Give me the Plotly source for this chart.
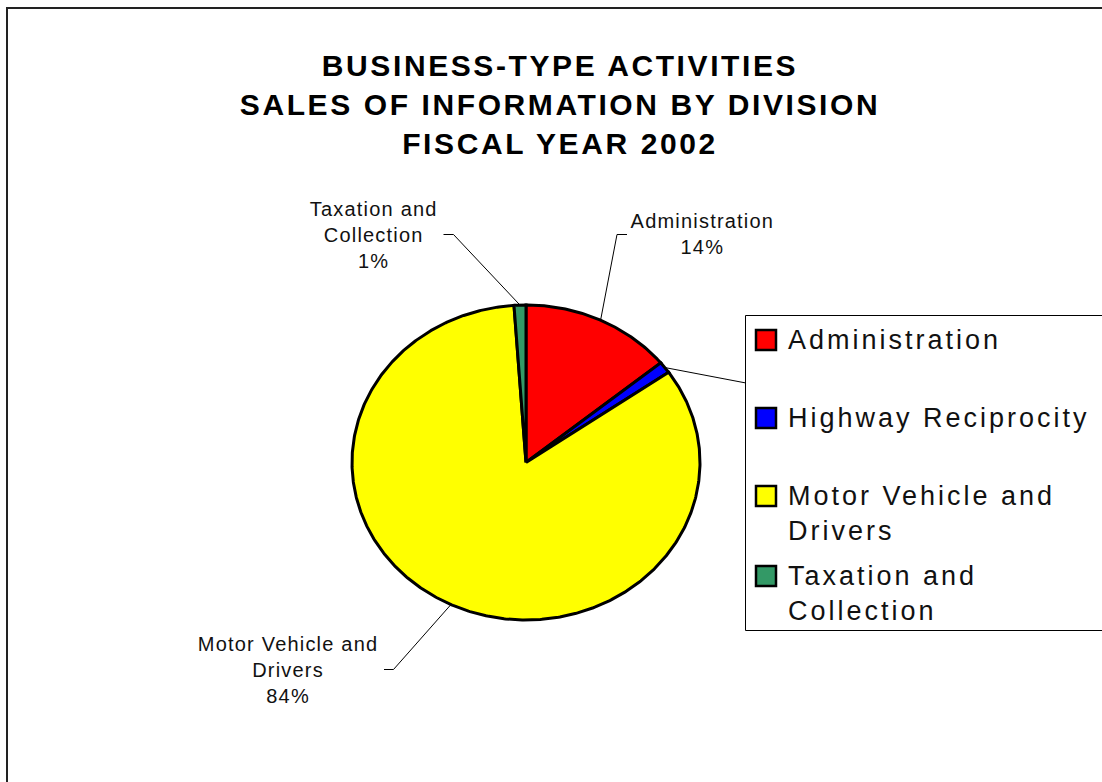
import numpy as np
import plotly.graph_objects as go

# ---- data -------------------------------------------------------------
categories = ["Administration", "Highway Reciprocity",
              "Motor Vehicle and Drivers", "Taxation and Collection"]
wrapped_names = ["Administration", "Highway Reciprocity",
                 "Motor Vehicle and<br>Drivers", "Taxation and<br>Collection"]
values = [14.1, 1.2, 83.6, 1.1]
colors = ["#FF0000", "#0000FF", "#FFFF00", "#339966"]

title_lines = ["BUSINESS-TYPE ACTIVITIES",
               "SALES OF INFORMATION BY DIVISION",
               "FISCAL YEAR 2002"]

# ---- geometry (pixel space of the page) -------------------------------
W, H = 1102, 782
CX, CY, RX, RY = 526, 462.5, 174, 157.5
FONT = "Liberation Sans, Arial, Helvetica, sans-serif"

total = float(sum(values))
fracs = [v / total for v in values]
starts = np.cumsum([0.0] + fracs[:-1])
pcts = [int(round(f * 100)) for f in fracs]


def edge(turn):
    """Point on the pie rim; turn measured clockwise from 12 o'clock."""
    a = 2 * np.pi * np.asarray(turn)
    return CX + RX * np.sin(a), CY - RY * np.cos(a)


fig = go.Figure()

# slices
for name, f, s, c in zip(categories, fracs, starts, colors):
    t = np.linspace(s, s + f, max(int(f * 720), 2) + 1)
    xs, ys = edge(t)
    fig.add_trace(go.Scatter(
        x=[CX, *xs, CX], y=[CY, *ys, CY], mode="lines",
        fill="toself", fillcolor=c,
        line=dict(color="black", width=3),
        name=name, hoverinfo="name", showlegend=False))

# data labels with leader lines: (label centre, elbow, line end)
label_layout = {
    0: ((702, 234), (617, 234.5), (627, 234.5)),
    1: (None, None, (746, 383)),
    2: ((288, 670), (393.5, 669.5), (384, 669.5)),
    3: ((373, 234.5), (453.5, 234.5), (443.5, 234.5)),
}
annotations = []
for i, (f, s) in enumerate(zip(fracs, starts)):
    lab, elbow, end = label_layout[i]
    x0, y0 = edge(s + f / 2)
    pts = [(x0, y0)] + ([elbow] if elbow else []) + [end]
    fig.add_trace(go.Scatter(
        x=[p[0] for p in pts], y=[p[1] for p in pts], mode="lines",
        line=dict(color="black", width=1), hoverinfo="skip",
        showlegend=False))
    if lab:
        annotations.append(dict(
            x=lab[0], y=lab[1], xref="x", yref="y",
            text=f"{wrapped_names[i]}<br>{pcts[i]}%", showarrow=False,
            xanchor="center", yanchor="middle", align="center",
            font=dict(family=FONT, size=20, color="#111")))

# ---- outer frame and legend box ----------------------------------------
shapes = [
    dict(type="rect", xref="x", yref="y", x0=7, y0=8, x1=W + 20, y1=H + 20,
         line=dict(color="#222", width=2), fillcolor="rgba(0,0,0,0)",
         layer="below"),
    dict(type="rect", xref="x", yref="y", x0=745.5, y0=315.5, x1=W + 20,
         y1=630.5, line=dict(color="black", width=1), fillcolor="white",
         layer="above"),
]
LEG_SIZE = 27
legend_rows = [340, 418, 496, 576]
LINE_H = LEG_SIZE * 1.3
for name, c, yr in zip(wrapped_names, colors, legend_rows):
    shapes.append(dict(type="rect", xref="x", yref="y",
                       x0=756, x1=776, y0=yr - 10, y1=yr + 10,
                       line=dict(color="black", width=2.5), fillcolor=c,
                       layer="above"))
    nlines = name.count("<br>") + 1
    annotations.append(dict(
        x=786, y=yr + (nlines - 1) * LINE_H / 2, xref="x", yref="y",
        text=name, showarrow=False, xanchor="left", yanchor="middle",
        align="left", font=dict(family=FONT, size=LEG_SIZE, color="#111")))

fig.update_layout(
    width=W, height=H,
    margin=dict(l=0, r=0, t=0, b=0),
    paper_bgcolor="white", plot_bgcolor="white",
    xaxis=dict(range=[0, W], visible=False, fixedrange=True),
    yaxis=dict(range=[H, 0], visible=False, fixedrange=True),
    title=dict(text="<br>".join(f"<b>{t}</b>" for t in title_lines),
               x=560 / W, xanchor="center", y=1 - 76 / H, yanchor="top",
               font=dict(family=FONT, size=30, color="#000")),
    shapes=shapes, annotations=annotations, showlegend=False,
)

# character tracking for the wide-set lettering
post = """
var gd = document.getElementById('{plot_id}');
function track(){
  gd.querySelectorAll('text').forEach(function(t){
    var fs = parseFloat(t.style.fontSize) || 0;
    var sp = fs >= 29 ? 2.6 : (fs >= 24 ? 3 : (fs >= 18 ? 1.2 : 0));
    t.style.letterSpacing = sp + 'px';
  });
}
track();
gd.on('plotly_afterplot', track);
"""

fig.write_html("out.html", config={"displayModeBar": False}, post_script=post)
